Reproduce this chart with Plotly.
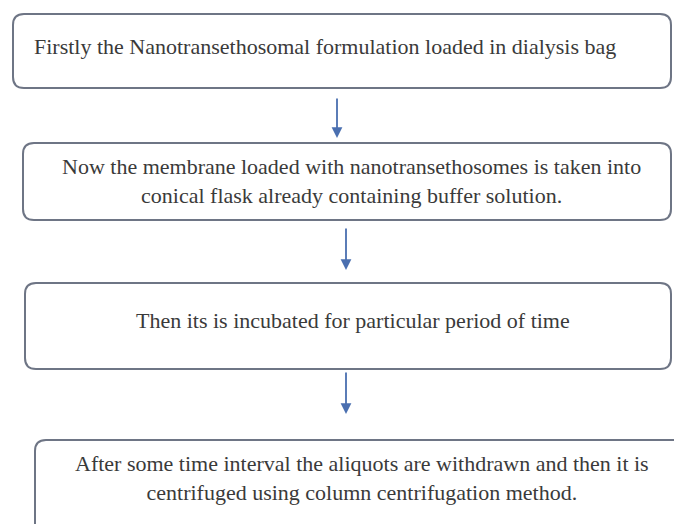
import plotly.graph_objects as go

# Flowchart content
steps = [
    "Firstly the Nanotransethosomal formulation loaded in dialysis bag",
    "Now the membrane loaded with nanotransethosomes is taken into<br>conical flask already containing buffer solution.",
    "Then its is incubated for particular period of time",
    "After some time interval the aliquots are withdrawn and then it is<br>centrifuged using column centrifugation method.",
]

# Layout geometry (pixels, y downward)
W, H = 674, 524
boxes = [(13, 14, 671, 88), (23, 143, 671, 220), (25, 283, 671, 369), (35, 440, 690, 540)]
text_pos = [(32, 46, "left"), (351, 181, "center"), (353, 320, "center"), (362, 478, "center")]
arrows = [(337, 97, 138), (346, 227, 270), (346, 371, 414)]

def rrect(x0, y0, x1, y1, r=11):
    return (f"M {x0+r},{y0} L {x1-r},{y0} Q {x1},{y0} {x1},{y0+r} "
            f"L {x1},{y1-r} Q {x1},{y1} {x1-r},{y1} L {x0+r},{y1} "
            f"Q {x0},{y1} {x0},{y1-r} L {x0},{y0+r} Q {x0},{y0} {x0+r},{y0} Z")

fig = go.Figure()
shapes = []
for b in boxes:
    shapes.append(dict(type="path", path=rrect(*b), xref="x", yref="y",
                       line=dict(color="#6e7585", width=2), fillcolor="white", layer="below"))

annotations = []
for txt, (x, y, al) in zip(steps, text_pos):
    annotations.append(dict(x=x, y=y, xref="x", yref="y", text=txt, showarrow=False,
                            xanchor=al, yanchor="middle", align=al,
                            font=dict(family="Liberation Serif", size=22, color="#3a3a3a")))
for (x, y0, y1) in arrows:
    annotations.append(dict(x=x, y=y1, ax=x, ay=y0, xref="x", yref="y", axref="x", ayref="y",
                            text="", showarrow=True, arrowhead=2, arrowsize=1.2, arrowwidth=1.8,
                            arrowcolor="#4a6fb0"))

fig.update_layout(
    width=W, height=H, margin=dict(l=0, r=0, t=0, b=0),
    paper_bgcolor="white", plot_bgcolor="white",
    xaxis=dict(range=[0, W], visible=False, fixedrange=True),
    yaxis=dict(range=[H, 0], visible=False, fixedrange=True),
    shapes=shapes, annotations=annotations, showlegend=False,
)
fig.write_html("out.html", config={"displayModeBar": False},
               post_script="document.body.style.margin='0';")
